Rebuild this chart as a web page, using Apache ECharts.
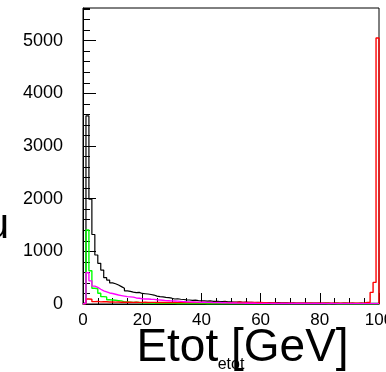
<!DOCTYPE html>
<html>
<head>
<meta charset="utf-8">
<script src="https://cdn.jsdelivr.net/npm/echarts@6/dist/echarts.min.js"></script>
<style>
  html, body { margin: 0; padding: 0; background: #fff; }
  #chart { width: 386px; height: 372px; }
</style>
</head>
<body>
<div id="chart"></div>
<script>
// 100 bins of 1 GeV, 0..100
const binWidth = 1;
const xTicks = [0, 20, 40, 60, 80, 100];
const yTicks = [0, 1000, 2000, 3000, 4000, 5000];

const black = [30, 3570, 1990, 1320, 930, 772, 645, 500, 455, 400,
  385, 360, 330, 297, 250, 240, 225, 215, 220, 200,
  195, 190, 180, 170, 150, 140, 135, 127, 120, 110,
  95, 100, 90, 85, 78, 76, 70, 72, 65, 60,
  58, 55, 60, 50, 52, 48, 45, 50, 42, 40,
  38, 35, 40, 33, 35, 30, 32, 28, 30, 26,
  28, 25, 27, 24, 22, 25, 20, 22, 20, 18,
  20, 17, 19, 16, 18, 15, 17, 16, 15, 18,
  16, 15, 17, 14, 16, 15, 14, 16, 15, 14,
  15, 13, 14, 15, 13, 14, 12, 13, 12, 10];

const green = [10, 1404, 630, 300, 290, 205, 140, 135, 80, 75,
  70, 65, 60, 40, 38, 35, 30, 32, 28, 25,
  22, 20, 18, 17, 15, 16, 14, 13, 12, 12,
  11, 10, 10, 9, 10, 8, 9, 8, 7, 8,
  7, 6, 7, 6, 6, 5, 6, 5, 5, 5,
  5, 4, 5, 4, 4, 5, 4, 4, 3, 4,
  3, 4, 3, 3, 4, 3, 3, 3, 2, 3,
  3, 2, 3, 2, 2, 3, 2, 2, 2, 2,
  2, 2, 1, 2, 2, 1, 2, 1, 1, 2,
  1, 1, 2, 1, 1, 1, 1, 1, 1, 1];

const magenta = [15, 594, 440, 340, 315, 280, 250, 230, 210, 200,
  185, 170, 160, 150, 140, 135, 130, 115, 110, 100,
  95, 95, 90, 88, 80, 75, 70, 65, 63, 60,
  58, 55, 50, 45, 42, 40, 38, 36, 35, 33,
  32, 30, 31, 28, 27, 28, 25, 24, 22, 20,
  20, 18, 17, 16, 15, 14, 14, 13, 12, 12,
  12, 11, 11, 10, 11, 10, 10, 10, 9, 10,
  10, 9, 9, 10, 9, 9, 8, 9, 9, 8,
  9, 8, 8, 9, 8, 8, 8, 7, 8, 8,
  8, 7, 8, 7, 8, 8, 7, 7, 8, 8];

const red = [10, 95, 90, 45, 50, 40, 45, 42, 38, 40,
  35, 38, 33, 36, 32, 34, 30, 33, 31, 30,
  32, 29, 31, 30, 28, 31, 29, 30, 28, 30,
  29, 27, 30, 28, 29, 27, 28, 30, 27, 28,
  29, 26, 28, 27, 29, 26, 27, 28, 26, 27,
  30, 28, 32, 29, 30, 28, 31, 29, 27, 28,
  26, 24, 22, 20, 18, 17, 15, 16, 14, 15,
  14, 13, 15, 14, 13, 14, 13, 14, 15, 13,
  14, 13, 14, 13, 14, 15, 13, 14, 13, 14,
  13, 14, 13, 14, 15, 30, 30, 220, 410, 5050];

const xMax = 100;
const yMax = 5620;
const font = '"Liberation Sans", Arial, sans-serif';

// histogram outline as step line through bin edges
function histData(counts) {
  const pts = [[0, 0]];
  counts.forEach((v, i) => pts.push([i * binWidth, v]));
  pts.push([counts.length * binWidth, counts[counts.length - 1]]);
  pts.push([counts.length * binWidth, 0]);
  return pts;
}

function histSeries(name, counts, color, width) {
  return {
    name: name,
    type: 'line',
    step: 'end',
    data: histData(counts),
    showSymbol: false,
    silent: true,
    lineStyle: { color: color, width: width },
    clip: true,
  };
}

const chart = echarts.init(document.getElementById('chart'));

chart.setOption({
  animation: false,
  backgroundColor: '#fff',
  grid: {
    left: 83, right: 7, top: 8, bottom: 68,
    outerBoundsMode: 'none',
    containLabel: false,
    show: true, borderColor: '#000', borderWidth: 1,
  },
  xAxis: {
    type: 'value',
    min: 0, max: xMax, interval: 20,
    name: 'Etot [GeV]',
    nameLocation: 'middle',
    nameGap: 21,
    nameMoveOverlap: false,
    nameTextStyle: { fontFamily: font, fontSize: 46, color: '#000', padding: [0, 0, 0, 23] },
    axisLine: { onZero: false, lineStyle: { color: '#000', width: 1 } },
    axisTick: { inside: true, length: 11, lineStyle: { color: '#000' } },
    minorTick: { show: true, splitNumber: 4, length: 6, lineStyle: { color: '#000' } },
    splitLine: { show: false },
    axisLabel: {
      fontFamily: font, fontSize: 17, color: '#000', margin: 8,
      formatter: (v) => (xTicks.includes(v) ? String(v) : ''),
    },
  },
  yAxis: [
    {
      type: 'value',
      min: 0, max: yMax, interval: 1000,
      axisLine: { show: true, onZero: false, lineStyle: { color: '#000', width: 1 } },
      axisTick: { show: true, inside: true, length: 13, lineStyle: { color: '#000' } },
      splitLine: { show: false },
      axisLabel: {
        fontFamily: font, fontSize: 18, color: '#000', margin: 20,
        showMaxLabel: false,
        formatter: (v) => (yTicks.includes(v) ? String(v) : ''),
      },
    },
    {
      // minor ticks every 200
      type: 'value',
      position: 'left',
      min: 0, max: yMax, interval: 200,
      axisLine: { show: false },
      axisTick: { show: true, inside: true, length: 7, lineStyle: { color: '#000' } },
      splitLine: { show: false },
      axisLabel: { show: false },
    },
  ],
  graphic: [
    {
      // y title, mostly outside the canvas
      type: 'text',
      x: 9, y: 226,
      style: {
        text: 'u', fontFamily: font, fontSize: 42, fill: '#000',
        align: 'right', verticalAlign: 'middle',
      },
    },
    {
      type: 'text',
      x: 231, y: 373,
      z: 100,
      style: {
        text: 'etot', fontFamily: font, fontSize: 16, fill: '#000',
        align: 'center', verticalAlign: 'bottom',
      },
    },
  ],
  series: [
    histSeries('etot', black, '#000000', 1.2),
    histSeries('etot_green', green, '#00ff00', 1.4),
    histSeries('etot_red', red, '#ff0000', 1.4),
    histSeries('etot_magenta', magenta, '#ff00ff', 1.4),
  ],
});
</script>
</body>
</html>
